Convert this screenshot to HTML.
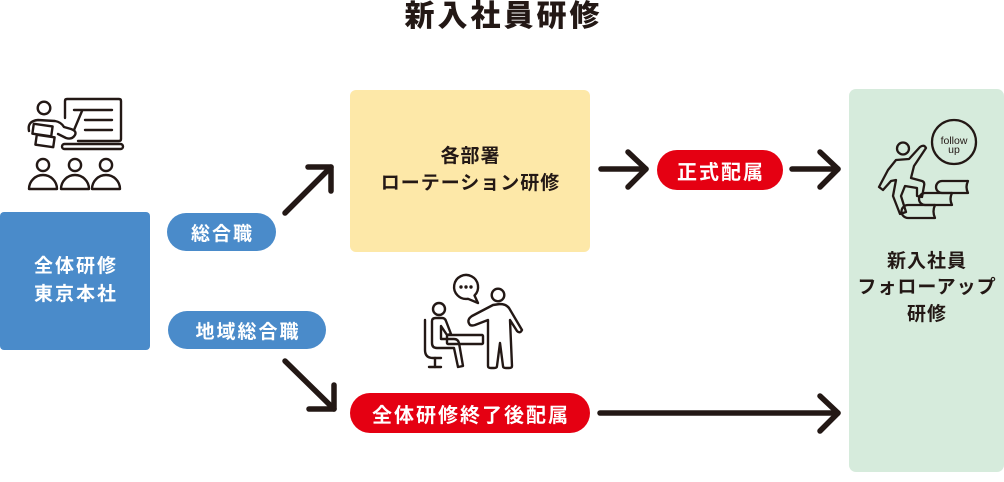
<!DOCTYPE html>
<html><head><meta charset="utf-8">
<style>
html,body{margin:0;padding:0;background:#fff;}
#c{position:relative;width:1004px;height:482px;overflow:hidden;background:#fff;}
svg{position:absolute;left:0;top:0;}
.t{position:absolute;display:flex;align-items:center;justify-content:center;text-align:center;font-family:"Liberation Sans","Noto Sans CJK JP",sans-serif;font-weight:700;white-space:nowrap;}
.w{color:#fff;font-size:19px;letter-spacing:2px;padding-left:2px;box-sizing:border-box;}
.w2{color:#fff;font-size:20px;letter-spacing:2px;padding-left:2px;box-sizing:border-box;}
.d{color:#231815;font-size:19px;letter-spacing:1px;padding-left:1px;box-sizing:border-box;}
</style></head>
<body><div id="c">
<svg width="1004" height="482" viewBox="0 0 1004 482">
  <!-- boxes -->
  <rect x="0" y="212" width="150" height="138" rx="4" fill="#4a8bca"/>
  <rect x="350" y="90" width="240" height="162" rx="6" fill="#fde8a8"/>
  <rect x="849" y="89" width="155" height="383" rx="7" fill="#d6ebdc"/>
  <!-- pills -->
  <rect x="167" y="213" width="109" height="38" rx="19" fill="#4a8bca"/>
  <rect x="168" y="311" width="158" height="38" rx="19" fill="#4a8bca"/>
  <rect x="657" y="150" width="126" height="40" rx="20" fill="#e50012"/>
  <rect x="350" y="393" width="240" height="40" rx="20" fill="#e50012"/>

  <!-- arrows -->
  <g fill="none" stroke="#231815" stroke-width="5.5" stroke-linecap="round" stroke-linejoin="round">
    <line x1="285" y1="213" x2="331" y2="167"/>
    <polyline points="308,167 331,167 331,191"/>
    <line x1="285" y1="361" x2="334" y2="409"/>
    <polyline points="309,409 334,409 334,385"/>
    <line x1="601" y1="169" x2="646" y2="169"/>
    <polyline points="628,152 646,169 628,187"/>
    <line x1="792" y1="169" x2="838" y2="169"/>
    <polyline points="820,152 838,169 820,187"/>
    <line x1="600" y1="413" x2="838" y2="413"/>
    <polyline points="820,396 838,413 820,431"/>
  </g>

  <!-- teacher icon -->
  <g fill="none" stroke="#231815" stroke-width="2.4" stroke-linecap="round" stroke-linejoin="round">
    <circle cx="44" cy="108" r="6.3"/>
    <path d="M65 118 V101 Q65 99 67 99 H119 Q121 99 121 101 V139 Q121 141 119 141 H78"/>
    <rect x="62" y="144" width="61" height="5" rx="2.5"/>
    <line x1="74" y1="110" x2="112" y2="110"/>
    <line x1="85" y1="120" x2="112" y2="120"/>
    <line x1="85" y1="130" x2="112" y2="130"/>
    <line x1="82" y1="111" x2="74" y2="130"/>
    <path d="M29 131 Q27 121 38 120 L55 121 Q61 122 64 127 L71 129 Q77 131 75 135 Q72 140 66 138 L58 134"/>
    <rect x="33" y="125" width="19" height="10" transform="rotate(8 42 130)"/>
    <rect x="36" y="136" width="18" height="10" transform="rotate(8 45 141)"/>
    <circle cx="43" cy="165" r="6.1"/>
    <circle cx="75" cy="165" r="6.1"/>
    <circle cx="106" cy="165" r="6.1"/>
    <path d="M29 189 A14 14 0 0 1 57 189 Z"/>
    <path d="M61 189 A14 14 0 0 1 89 189 Z"/>
    <path d="M92 189 A14 14 0 0 1 120 189 Z"/>
  </g>

  <!-- meeting icon -->
  <g fill="none" stroke="#231815" stroke-width="2.4" stroke-linecap="round" stroke-linejoin="round">
    <path d="M474.5 295.5 A12 12 0 1 0 468 298.8 L478 303 Z"/>
    <circle cx="498" cy="295" r="6.3"/>
    <path d="M493 305 L472 316 Q466 320 470 325 Q472 326 475 325 L488 320 L488 366 Q488 368 491 368 H494 Q497 368 497 366 L500 343 L503 366 Q503 368 506 368 H509 Q512 368 512 366 L510 320 L517 331 Q520 334 522 330 L509 308 Q506 304 500 304 Z"/>
    <circle cx="439" cy="309" r="6"/>
    <path d="M432 321 Q432 318 436 318 H442 Q445 318 446 321 L451 334 L447 335 L441 326 L441 339 H454 Q458 339 459 343 L463 366 L458 367 L454 348 H437 Q432 348 432 343 Z"/>
    <rect x="447" y="335" width="36" height="9" rx="1"/>
    <path d="M425 320 V350 Q425 358 433 358 H441"/>
    <line x1="435" y1="358" x2="435" y2="367"/>
    <line x1="429" y1="367" x2="441" y2="367"/>
  </g>
  <g fill="#231815">
    <circle cx="461" cy="287" r="1.7"/>
    <circle cx="466" cy="287" r="1.7"/>
    <circle cx="471" cy="287" r="1.7"/>
  </g>

  <!-- follow up icon -->
  <g fill="none" stroke="#231815" stroke-width="2.3" stroke-linecap="round" stroke-linejoin="round">
    <circle cx="954" cy="142" r="22"/>
    <circle cx="903" cy="148.5" r="6"/>
    <path d="M896 160 L909 159 L920 147 Q924 144 926 148 L914 166 L911 178 L922 181 Q925 182 924 186 L922 197 L917 196 L917 188 L905 186 L901 196 L906 212 L900 214 L893 196 L896 180 L891 181 L883 190 L879 187 L888 170 Z"/>
    <path d="M968 181 H942 A6 6 0 0 0 942 193 H968 Q965 187 968 181"/>
    <path d="M952 193 H925 A6 6 0 0 0 925 205 H952 Q949 199 952 193"/>
    <path d="M935 205 H908 A6.5 6.5 0 0 0 908 218 H935 Q932 211.5 935 205"/>
  </g>
  <text x="954" y="144" text-anchor="middle" font-family="Liberation Sans, sans-serif" font-size="10.5" fill="#231815">follow</text>
  <text x="954" y="153" text-anchor="middle" font-family="Liberation Sans, sans-serif" font-size="10.5" fill="#231815">up</text>
</svg>

<!-- title -->
<div class="t" style="left:352px;top:2px;width:300px;height:30px;font-size:30px;font-weight:900;letter-spacing:3px;padding-left:3px;box-sizing:border-box;color:#231815;line-height:30px;">新入社員研修</div>

<!-- blue box text -->
<div class="t w" style="left:0;top:253px;width:150px;height:56px;line-height:28px;flex-direction:column;">全体研修<br>東京本社</div>

<!-- pills -->
<div class="t w" style="left:167px;top:213px;width:109px;height:38px;">総合職</div>
<div class="t w" style="left:168px;top:311px;width:158px;height:38px;">地域総合職</div>
<div class="t w2" style="left:657px;top:150px;width:126px;height:40px;">正式配属</div>
<div class="t w2" style="left:350px;top:393px;width:240px;height:40px;">全体研修終了後配属</div>

<!-- yellow text -->
<div class="t d" style="left:350px;top:142.5px;width:240px;height:54px;line-height:27px;">各部署<br>ローテーション研修</div>

<!-- green text -->
<div class="t d" style="left:849px;top:248.5px;width:155px;height:80px;line-height:26.5px;">新入社員<br>フォローアップ<br>研修</div>

</div></body></html>
